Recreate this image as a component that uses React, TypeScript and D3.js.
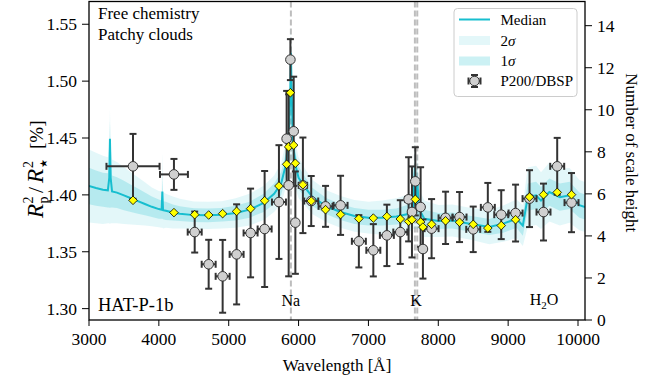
import * as d3 from "d3";

// observed transit depths (P200/DBSP), Rp^2/Rs^2 in %
const obsWave = [3630, 4216, 4513, 4713, 4913, 5113, 5313, 5514, 5719, 5829, 5858, 5883, 5930, 5954, 6062, 6181, 6386, 6601, 6863, 7070, 7264, 7456, 7575, 7623, 7671, 7747, 7780, 7904, 8104, 8304, 8500, 8709, 8901, 9106, 9306, 9506, 9702, 9907];
const obsHalfBin = [380, 200, 100, 100, 100, 100, 100, 100, 100, 25, 25, 25, 25, 25, 60, 100, 100, 100, 100, 100, 100, 100, 50, 25, 25, 25, 40, 100, 100, 100, 100, 100, 100, 100, 100, 100, 100, 100];
const obsDepth = [1.4251, 1.418, 1.3673, 1.339, 1.3284, 1.3477, 1.3665, 1.37, 1.3937, 1.4494, 1.4084, 1.5189, 1.4559, 1.3756, 1.4084, 1.3946, 1.3899, 1.3908, 1.3592, 1.3513, 1.3644, 1.3673, 1.3961, 1.385, 1.4119, 1.3893, 1.3524, 1.3703, 1.3798, 1.3805, 1.3697, 1.389, 1.3826, 1.384, 1.3967, 1.3849, 1.4251, 1.3932];
const obsErr = [0.0285, 0.0136, 0.018, 0.0215, 0.032, 0.044, 0.039, 0.051, 0.05, 0.042, 0.08, 0.018, 0.048, 0.045, 0.042, 0.022, 0.018, 0.026, 0.023, 0.023, 0.027, 0.028, 0.037, 0.04, 0.03, 0.035, 0.026, 0.026, 0.023, 0.022, 0.02, 0.0215, 0.0215, 0.025, 0.025, 0.025, 0.025, 0.026];
// binned median model at the data wavelengths
const binnedModel = [1.3952, 1.3844, 1.3826, 1.3823, 1.3835, 1.3855, 1.3879, 1.3949, 1.4078, 1.4269, 1.4422, 1.4898, 1.4437, 1.4278, 1.4089, 1.3946, 1.387, 1.3827, 1.3791, 1.3796, 1.381, 1.3788, 1.3767, 1.3782, 1.3961, 1.3761, 1.3717, 1.3741, 1.3772, 1.3759, 1.3741, 1.3708, 1.373, 1.3782, 1.3981, 1.4002, 1.4022, 1.4002];

// retrieved spectrum: median and distances to the 1/2 sigma edges
const modelWave = [3000, 3100, 3200, 3270, 3290, 3300, 3310, 3330, 3400, 3500, 3600, 3700, 3800, 3900, 4000, 4040, 4050, 4060, 4100, 4200, 4300, 4500, 4700, 4900, 5100, 5300, 5500, 5650, 5750, 5820, 5860, 5880, 5890, 5900, 5920, 5960, 6000, 6100, 6200, 6400, 6600, 6800, 7000, 7200, 7400, 7550, 7640, 7665, 7680, 7699, 7720, 7800, 8000, 8200, 8450, 8730, 8930, 9120, 9210, 9280, 9400, 9470, 9590, 9740, 9880, 10020, 10100];
const modelMedian = [1.4078, 1.406, 1.4045, 1.404, 1.415, 1.4494, 1.415, 1.403, 1.402, 1.3995, 1.397, 1.3945, 1.392, 1.3895, 1.3875, 1.387, 1.403, 1.3865, 1.386, 1.3845, 1.3835, 1.3822, 1.382, 1.3825, 1.384, 1.387, 1.393, 1.401, 1.41, 1.427, 1.455, 1.485, 1.525, 1.495, 1.445, 1.425, 1.415, 1.406, 1.398, 1.39, 1.385, 1.3815, 1.38, 1.38, 1.381, 1.383, 1.388, 1.425, 1.395, 1.415, 1.388, 1.379, 1.377, 1.3775, 1.3747, 1.3717, 1.3747, 1.379, 1.373, 1.398, 1.3996, 1.395, 1.4025, 1.398, 1.3996, 1.391, 1.3893];
const modelUp1 = [0.016, 0.0155, 0.015, 0.015, 0.015, 0.016, 0.015, 0.014, 0.0135, 0.013, 0.012, 0.011, 0.01, 0.009, 0.0085, 0.008, 0.01, 0.008, 0.008, 0.007, 0.0065, 0.006, 0.006, 0.006, 0.0065, 0.007, 0.008, 0.009, 0.01, 0.011, 0.012, 0.012, 0.012, 0.012, 0.012, 0.011, 0.01, 0.009, 0.008, 0.007, 0.007, 0.007, 0.007, 0.007, 0.007, 0.008, 0.009, 0.012, 0.01, 0.012, 0.009, 0.008, 0.007, 0.007, 0.007, 0.007, 0.008, 0.008, 0.009, 0.012, 0.012, 0.012, 0.012, 0.012, 0.012, 0.011, 0.011];
const modelDn1 = [0.016, 0.0155, 0.015, 0.015, 0.026, 0.061, 0.026, 0.014, 0.0135, 0.013, 0.012, 0.011, 0.01, 0.009, 0.0085, 0.008, 0.024, 0.008, 0.008, 0.007, 0.0065, 0.006, 0.006, 0.006, 0.0065, 0.007, 0.008, 0.009, 0.01, 0.011, 0.02, 0.03, 0.05, 0.035, 0.018, 0.011, 0.01, 0.009, 0.008, 0.007, 0.007, 0.007, 0.007, 0.007, 0.007, 0.008, 0.009, 0.045, 0.015, 0.035, 0.009, 0.008, 0.007, 0.007, 0.007, 0.007, 0.008, 0.008, 0.009, 0.012, 0.012, 0.012, 0.012, 0.012, 0.012, 0.011, 0.011];
const modelUp2 = [0.032, 0.031, 0.03, 0.029, 0.028, 0.026, 0.028, 0.028, 0.027, 0.025, 0.023, 0.021, 0.019, 0.017, 0.016, 0.016, 0.034, 0.016, 0.015, 0.014, 0.013, 0.012, 0.012, 0.012, 0.013, 0.014, 0.015, 0.016, 0.018, 0.02, 0.022, 0.024, 0.024, 0.024, 0.022, 0.02, 0.018, 0.016, 0.015, 0.014, 0.014, 0.014, 0.014, 0.015, 0.016, 0.017, 0.018, 0.022, 0.02, 0.022, 0.018, 0.016, 0.014, 0.014, 0.014, 0.015, 0.016, 0.017, 0.018, 0.026, 0.026, 0.025, 0.026, 0.025, 0.024, 0.022, 0.022];
const modelDn2 = [0.032, 0.031, 0.03, 0.029, 0.04, 0.075, 0.04, 0.028, 0.027, 0.025, 0.023, 0.021, 0.019, 0.017, 0.016, 0.016, 0.032, 0.016, 0.015, 0.014, 0.013, 0.012, 0.012, 0.012, 0.013, 0.014, 0.015, 0.016, 0.018, 0.02, 0.04, 0.06, 0.09, 0.065, 0.035, 0.02, 0.018, 0.016, 0.015, 0.014, 0.014, 0.014, 0.014, 0.015, 0.016, 0.017, 0.018, 0.055, 0.025, 0.045, 0.018, 0.016, 0.014, 0.014, 0.014, 0.015, 0.016, 0.017, 0.018, 0.026, 0.026, 0.025, 0.026, 0.025, 0.024, 0.022, 0.022];

const xTicks = [3000, 4000, 5000, 6000, 7000, 8000, 9000, 10000];
const yTicks = [1.3, 1.35, 1.4, 1.45, 1.5, 1.55];
const rTicks = [0, 2, 4, 6, 8, 10, 12, 14];
const lineMarks = [
  { label: "Na", waves: [5890] },
  { label: "K", waves: [7665, 7699] },
];

const W = 666;
const H = 384;
const m = { left: 89, right: 81, top: 1.5, bottom: 64 };
const cyan = "#17becf";
const font = "'Liberation Serif', 'Times New Roman', serif";
const ebColor = "#333333";

export default function App() {
  const x = d3.scaleLinear().domain([3000, 10100]).range([m.left, W - m.right]);
  const y = d3.scaleLinear().domain([1.29, 1.57]).range([H - m.bottom, m.top]);
  const yr = d3.scaleLinear().domain([0, 15.15]).range([H - m.bottom, m.top]);

  const idx = modelWave.map((_, i) => i);
  const band = (up: number[], dn: number[]) =>
    d3
      .area<number>()
      .x((i) => x(modelWave[i]))
      .y0((i) => y(modelMedian[i] - dn[i]))
      .y1((i) => y(modelMedian[i] + up[i]))(idx) || "";
  const medLine =
    d3
      .line<number>()
      .x((i) => x(modelWave[i]))
      .y((i) => y(modelMedian[i]))(idx) || "";

  const x0 = m.left;
  const x1 = W - m.right;
  const y0 = H - m.bottom;
  const y1 = m.top;
  const cap = 3.5;

  const diamond = (cx: number, cy: number, r: number) =>
    `M${cx},${cy - r}L${cx + r},${cy}L${cx},${cy + r}L${cx - r},${cy}Z`;

  return (
    <svg
      width={W}
      height={H}
      style={{ position: "absolute", left: 0, top: 0, background: "#fff" }}
      fontFamily={font}
    >
      <defs>
        <clipPath id="plot">
          <rect x={x0} y={y1} width={x1 - x0} height={y0 - y1} />
        </clipPath>
      </defs>

      {/* Na / K markers */}
      {lineMarks.map((d) =>
        d.waves.map((w) => (
          <line
            key={d.label + w}
            x1={x(w)}
            x2={x(w)}
            y1={y1}
            y2={y0}
            stroke="#bdbdbd"
            strokeWidth={2}
            strokeDasharray="6,3"
          />
        ))
      )}

      <g clipPath="url(#plot)">
        <path d={band(modelUp2, modelDn2)} fill={cyan} fillOpacity={0.12} />
        <path d={band(modelUp1, modelDn1)} fill={cyan} fillOpacity={0.22} />
        <path d={medLine} fill="none" stroke={cyan} strokeWidth={2} />
      </g>

      {/* observations */}
      {obsWave.map((w, i) => {
        const cx = x(w);
        const cy = y(obsDepth[i]);
        const ya = y(obsDepth[i] + obsErr[i]);
        const yb = y(obsDepth[i] - obsErr[i]);
        const xa = x(w - obsHalfBin[i]);
        const xb = x(w + obsHalfBin[i]);
        return (
          <g key={"o" + i} stroke={ebColor} strokeWidth={2}>
            <line x1={cx} x2={cx} y1={ya} y2={yb} />
            <line x1={cx - cap} x2={cx + cap} y1={ya} y2={ya} />
            <line x1={cx - cap} x2={cx + cap} y1={yb} y2={yb} />
            <line x1={xa} x2={xb} y1={cy} y2={cy} />
            <line x1={xa} x2={xa} y1={cy - cap} y2={cy + cap} />
            <line x1={xb} x2={xb} y1={cy - cap} y2={cy + cap} />
          </g>
        );
      })}
      {obsWave.map((w, i) => (
        <circle
          key={"c" + i}
          cx={x(w)}
          cy={y(obsDepth[i])}
          r={4.8}
          fill="#d0d0d0"
          stroke="#333"
          strokeWidth={1}
        />
      ))}
      {obsWave.map((w, i) => (
        <path
          key={"d" + i}
          d={diamond(x(w), y(binnedModel[i]), 4.3)}
          fill="#ffff00"
          stroke="#000"
          strokeWidth={0.8}
        />
      ))}

      {/* frame */}
      <rect x={x0} y={y1} width={x1 - x0} height={y0 - y1} fill="none" stroke="#000" strokeWidth={1.3} />

      {/* bottom axis */}
      {xTicks.map((t) => (
        <g key={"x" + t}>
          <line x1={x(t)} x2={x(t)} y1={y0} y2={y0 + 6} stroke="#000" strokeWidth={1} />
          <text x={x(t)} y={y0 + 25} textAnchor="middle" fontSize={17.5}>
            {t}
          </text>
        </g>
      ))}
      {/* left axis */}
      {yTicks.map((t) => (
        <g key={"y" + t}>
          <line x1={x0 - 7} x2={x0} y1={y(t)} y2={y(t)} stroke="#000" strokeWidth={1} />
          <text x={x0 - 12} y={y(t) + 6} textAnchor="end" fontSize={17.5}>
            {t.toFixed(2)}
          </text>
        </g>
      ))}
      {/* right axis */}
      {rTicks.map((t) => (
        <g key={"r" + t}>
          <line x1={x1} x2={x1 + 7} y1={yr(t)} y2={yr(t)} stroke="#000" strokeWidth={1} />
          <text x={x1 + 12} y={yr(t) + 6} textAnchor="start" fontSize={17.5}>
            {t}
          </text>
        </g>
      ))}

      {/* axis titles */}
      <text x={(x0 + x1) / 2} y={371} textAnchor="middle" fontSize={17}>
        Wavelength [Å]
      </text>
      <text
        transform={`translate(626,${(y0 + y1) / 2 - 8}) rotate(90)`}
        textAnchor="middle"
        fontSize={17}
      >
        Number of scale height
      </text>
      <g transform="translate(43,218) rotate(-90)">
        <text x={0} y={0} fontSize={23} fontStyle="italic">R</text>
        <text x={14.5} y={-10} fontSize={14}>2</text>
        <text x={14.5} y={5} fontSize={14}>p</text>
        <text x={25} y={0} fontSize={22}>/</text>
        <text x={35} y={0} fontSize={23} fontStyle="italic">R</text>
        <text x={50} y={-10} fontSize={14}>2</text>
        <text x={50} y={4} fontSize={10}>★</text>
        <text x={69} y={0} fontSize={19}>[%]</text>
      </g>

      {/* annotations */}
      <text x={98} y={19} fontSize={17}>Free chemistry</text>
      <text x={98} y={40} fontSize={17}>Patchy clouds</text>
      <text x={98} y={311} fontSize={18.5}>HAT-P-1b</text>
      {lineMarks.map((d) => (
        <text key={"t" + d.label} x={x(d3.mean(d.waves) as number)} y={306} textAnchor="middle" fontSize={16}>
          {d.label}
        </text>
      ))}
      <text x={544} y={305} textAnchor="middle" fontSize={16}>
        H<tspan fontSize={11} dy={4}>2</tspan>
        <tspan dy={-4}>O</tspan>
      </text>

      {/* legend */}
      <g>
        <rect x={454} y={8.5} width={123} height={88} rx={3.5} fill="#fff" fillOpacity={0.85} stroke="#cccccc" strokeWidth={1} />
        <line x1={459} x2={490} y1={19.5} y2={19.5} stroke={cyan} strokeWidth={2} />
        <rect x={459} y={36} width={31} height={9} fill={cyan} fillOpacity={0.12} />
        <rect x={459} y={56.5} width={31} height={9} fill={cyan} fillOpacity={0.22} />
        <g stroke={ebColor} strokeWidth={2}>
          <line x1={474.5} x2={474.5} y1={75} y2={87} />
          <line x1={471} x2={478} y1={75} y2={75} />
          <line x1={471} x2={478} y1={87} y2={87} />
          <line x1={468.5} x2={480.5} y1={81} y2={81} />
          <line x1={468.5} x2={468.5} y1={77.5} y2={84.5} />
          <line x1={480.5} x2={480.5} y1={77.5} y2={84.5} />
        </g>
        <circle cx={474.5} cy={81} r={4.8} fill="#d0d0d0" stroke="#333" strokeWidth={1} />
        <text x={500.5} y={24.5} fontSize={15}>Median</text>
        <text x={500.5} y={45.5} fontSize={15}>
          2<tspan fontStyle="italic">σ</tspan>
        </text>
        <text x={500.5} y={66} fontSize={15}>
          1<tspan fontStyle="italic">σ</tspan>
        </text>
        <text x={500.5} y={86} fontSize={15}>P200/DBSP</text>
      </g>
    </svg>
  );
}
